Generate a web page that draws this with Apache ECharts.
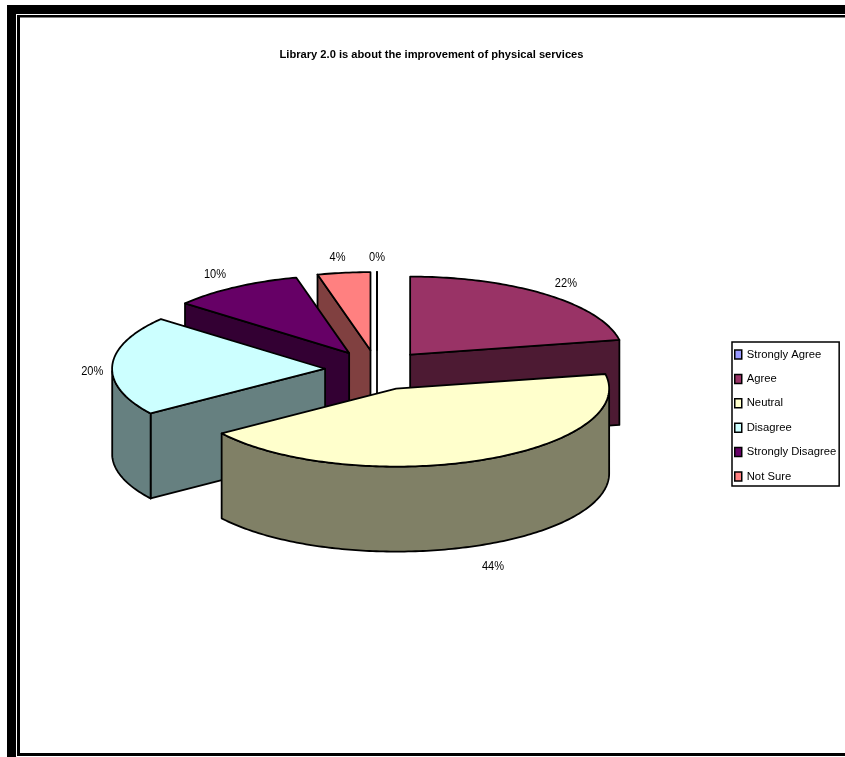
<!DOCTYPE html>
<html>
<head>
<meta charset="utf-8">
<style>html,body{margin:0;padding:0;background:#fff}#c{width:845px;height:757px}</style>
<script src="https://cdn.jsdelivr.net/npm/echarts@6/dist/echarts.min.js"></script>
</head>
<body>
<div id="c"></div>
<script>
var categories = ['Strongly Agree','Agree','Neutral','Disagree','Strongly Disagree','Not Sure'];
var values = [0,22,44,20,10,4];
var labels = ['0%','22%','44%','20%','10%','4%'];
var topColors = ['#9999FF','#993366','#FFFFCC','#CCFFFF','#660066','#FF8080'];
var sideColors = ['#4D4D80','#4D1A33','#808066','#668080','#330033','#804040'];

var FONT = '"Liberation Sans",Arial,sans-serif';
var CX = 377, CY = 370, RX = 213, RY = 78, H = 85, EX = 52, EY = 20;
var total = values.reduce(function(a,b){return a+b;},0);
var starts = [];
values.reduce(function(acc,v,i){starts[i]=acc;return acc+v;},0);

function rad(d){return d*Math.PI/180;}
// slight perspective warp of the lower-left quadrant of the tilted pie
function warp(d){return (d>180&&d<300)?d-2.6*Math.sin(rad(1.5*(d-180))):d;}
function renderSlice(i){
  return function(params, api){
    var v = api.value(0);
    var a0 = starts[i]/total*360, a1 = a0 + v/total*360, mid = (a0+a1)/2;
    var sm = Math.sin(rad(mid)), cm = Math.cos(rad(mid));
    var ax = CX + EX*sm, ay = CY - EY*cm;
    function pt(d,dz){var w=warp(d);return [ax+RX*Math.sin(rad(w)), ay-RY*Math.cos(rad(w))+(dz||0)];}
    function arc(from,to,dz){
      var out=[], n=Math.max(1,Math.ceil(Math.abs(to-from)));
      for(var k=0;k<=n;k++){out.push(pt(from+(to-from)*k/n,dz));}
      return out;
    }
    var side = {fill:sideColors[i],stroke:'#000',lineWidth:1.8,lineJoin:'round'};
    var kids = [];
    function cut(d){
      var p=pt(d);
      kids.push({type:'polygon',shape:{points:[[ax,ay],p,[p[0],p[1]+H],[ax,ay+H]]},style:side});
    }
    if(a1<180) cut(a1);
    if(a0>180) cut(a0);
    var w0=Math.max(a0,90), w1=Math.min(a1,270);
    if(w1>w0){
      kids.push({type:'polygon',shape:{points:arc(w0,w1,0).concat(arc(w1,w0,H))},style:side});
    }
    kids.push({type:'polygon',shape:{points:[[ax,ay]].concat(arc(a0,a1,0))},
      style:{fill:v>0?topColors[i]:'#fff',stroke:'#000',lineWidth:1.8,lineJoin:'round'}});
    var e=pt(mid,(mid>90&&mid<270)?H:0);
    var dx=20*(sm<0?-1:1)*Math.min(1,Math.abs(sm)*2.5);
    var dy=-15*cm+(cm<0.1?6:0);
    kids.push({type:'text',z2:5,
      x:e[0]+dx,y:e[1]+dy,scaleX:0.85,
      style:{text:labels[i],x:0,y:0,align:'center',verticalAlign:'middle',
        font:'13px '+FONT,fill:'#000'}});
    return {type:'group',children:kids};
  };
}

var series = categories.map(function(name,i){
  var mid = (starts[i]+values[i]/2)/total*360;
  return {
    type:'custom',name:name,coordinateSystem:'none',
    z:2+(180-Math.abs(mid-180))/10,
    silent:true,animation:false,
    itemStyle:{color:topColors[i]},
    renderItem:renderSlice(i),
    data:[[values[i]]]
  };
});

function box(x,y,w,h){return {type:'rect',shape:{x:x,y:y,width:w,height:h},style:{fill:'#000'},silent:true};}

var chart = echarts.init(document.getElementById('c'),null,{renderer:'canvas'});
chart.setOption({
  animation:false,
  backgroundColor:'#fff',
  title:{
    text:'Library 2.0 is about the improvement of physical services',
    left:426.5,top:44,textAlign:'center',
    textStyle:{fontFamily:FONT,fontSize:11.15,fontWeight:'bold',color:'#000'}
  },
  legend:{
    orient:'vertical',left:732,top:342,
    data:categories,
    backgroundColor:'#fff',borderColor:'#000',borderWidth:1.5,
    padding:[7,3,4,2],itemGap:13.4,itemWidth:7,itemHeight:9,
    icon:'rect',
    itemStyle:{borderColor:'#000',borderWidth:1.5},
    selectedMode:false,
    textStyle:{fontFamily:FONT,fontSize:11.25,color:'#000'}
  },
  graphic:[
    box(7,5,838,9),box(7,5,9,752),
    box(17,15,828,2.5),box(17,15,3,741),box(17,753,828,3)
  ],
  series:series
});
</script>
</body>
</html>
